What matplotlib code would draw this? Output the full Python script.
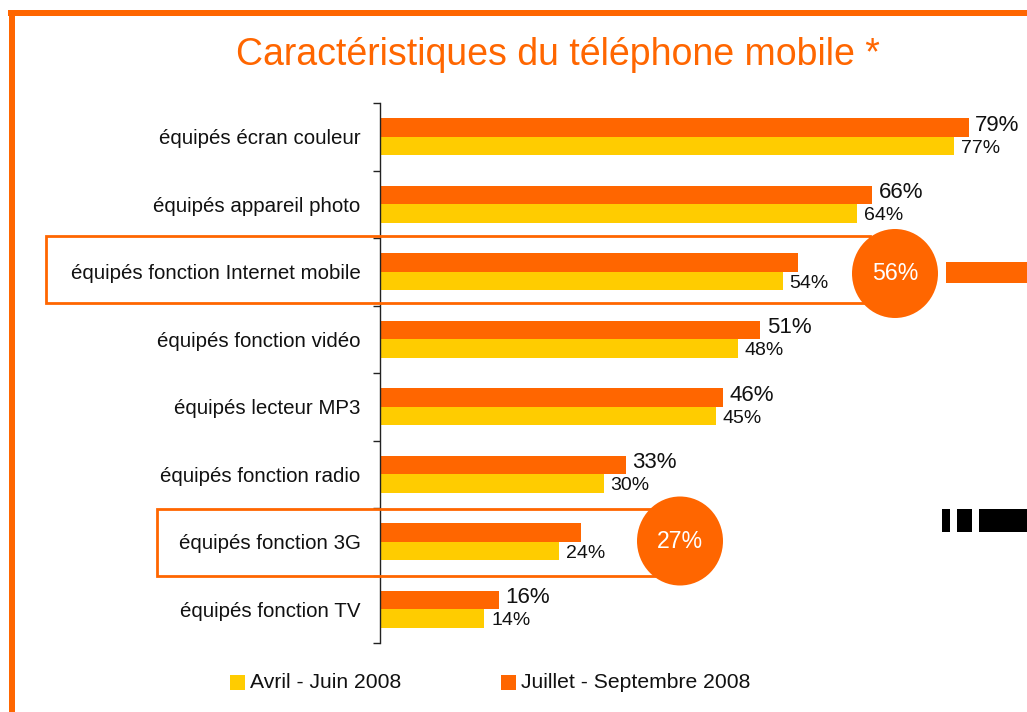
import matplotlib
matplotlib.use("Agg")
import matplotlib.pyplot as plt
from matplotlib.patches import Rectangle, Ellipse

plt.rcParams['font.family'] = ['Liberation Sans', 'DejaVu Sans']

categories = ['équipés écran couleur', 'équipés appareil photo',
              'équipés fonction Internet mobile', 'équipés fonction vidéo',
              'équipés lecteur MP3', 'équipés fonction radio',
              'équipés fonction 3G', 'équipés fonction TV']
avril_juin = [77, 64, 54, 48, 45, 30, 24, 14]
juillet_sept = [79, 66, 56, 51, 46, 33, 27, 16]
series_labels = ['Avril - Juin 2008', 'Juillet - Septembre 2008']
highlighted = [2, 6]

ORANGE = '#FF6600'
YELLOW = '#FFCC00'

W, H = 1027, 712
fig = plt.figure(figsize=(W / 100, H / 100), dpi=100)

def fx(px):
    return px / W

def fy(py):
    return 1 - py / H

# axes: x from 380px to right edge, y from 103px to 643px
px_per_pct = 7.456
ax_left, ax_top, ax_bottom = 380, 103, 643
ax = fig.add_axes([fx(ax_left), fy(ax_bottom), fx(W - ax_left), (ax_bottom - ax_top) / H])
ax.set_xlim(0, (W - ax_left) / px_per_pct)
n = len(categories)
ax.set_ylim(n - 0.5, -0.5)

bh = 0.274
ys = list(range(n))
ax.barh([y - bh / 2 for y in ys], juillet_sept, height=bh, color=ORANGE, zorder=2)
ax.barh([y + bh / 2 for y in ys], avril_juin, height=bh, color=YELLOW, zorder=2)

for i in ys:
    if i not in highlighted:
        ax.text(juillet_sept[i] + 0.85, i - bh / 2 - 0.035, f'{juillet_sept[i]}%',
                ha='left', va='center', fontsize=16, color='#111111', clip_on=False)
    ax.text(avril_juin[i] + 0.9, i + bh / 2 + 0.03, f'{avril_juin[i]}%',
            ha='left', va='center', fontsize=14, color='#111111', clip_on=False)

for s in ['top', 'right', 'bottom']:
    ax.spines[s].set_visible(False)
ax.spines['left'].set_color('#222222')
ax.spines['left'].set_linewidth(1.0)
ax.set_xticks([])
ax.set_yticks(ys)
ax.set_yticklabels(categories, fontsize=14.8, color='#111111')
ax.tick_params(axis='y', which='major', length=0, pad=14)
ax.set_yticks([i - 0.5 for i in range(n + 1)], minor=True)
ax.tick_params(axis='y', which='minor', length=5, width=1, color='#222222')
ax.patch.set_alpha(0)

# frame lines of the slide
fig.add_artist(Rectangle((fx(8), fy(16)), fx(W), 6 / H, transform=fig.transFigure,
                         color=ORANGE, lw=0))
fig.add_artist(Rectangle((fx(8.5), 0), fx(6), fy(10), transform=fig.transFigure,
                         color=ORANGE, lw=0))

fig.text(fx(558), fy(65), 'Caractéristiques du téléphone mobile *', ha='center', va='baseline',
         fontsize=27, color=ORANGE)

# highlight boxes
fig.add_artist(Rectangle((fx(46), fy(302.5)), fx(870 - 46), (302.5 - 235.5) / H,
                         transform=fig.transFigure, fill=False, ec=ORANGE, lw=2, zorder=1))
fig.add_artist(Rectangle((fx(157), fy(576)), fx(660 - 157), (576 - 508.5) / H,
                         transform=fig.transFigure, fill=False, ec=ORANGE, lw=2, zorder=1))

# circles with the highlighted values
for i, (cxp, cyp) in zip(highlighted, [(895, 273.5), (680, 541)]):
    fig.add_artist(Ellipse((fx(cxp), fy(cyp)), 86 / W, 89 / H, transform=fig.transFigure,
                           color=ORANGE, lw=0, zorder=5))
    fig.text(fx(cxp), fy(cyp), f'{juillet_sept[i]}%', ha='center', va='center',
             fontsize=16.7, color='white', zorder=6)

# decorative right-side marks
fig.add_artist(Rectangle((fx(946), fy(283.3)), fx(W - 946), 21 / H,
                         transform=fig.transFigure, color=ORANGE, lw=0))
for x0, x1 in [(942, 950), (957, 972), (979, 1027)]:
    fig.add_artist(Rectangle((fx(x0), fy(531.7)), fx(x1 - x0), 22.7 / H,
                             transform=fig.transFigure, color='black', lw=0))

# legend
for (x0, col, lab) in [(230, YELLOW, series_labels[0]), (501, ORANGE, series_labels[1])]:
    fig.add_artist(Rectangle((fx(x0), fy(690)), fx(15), 15 / H,
                             transform=fig.transFigure, color=col, lw=0))
    fig.text(fx(x0 + 20), fy(683), lab, ha='left', va='center', fontsize=15.2, color='#111111')

fig.savefig('out.png', dpi=100, facecolor='white')
